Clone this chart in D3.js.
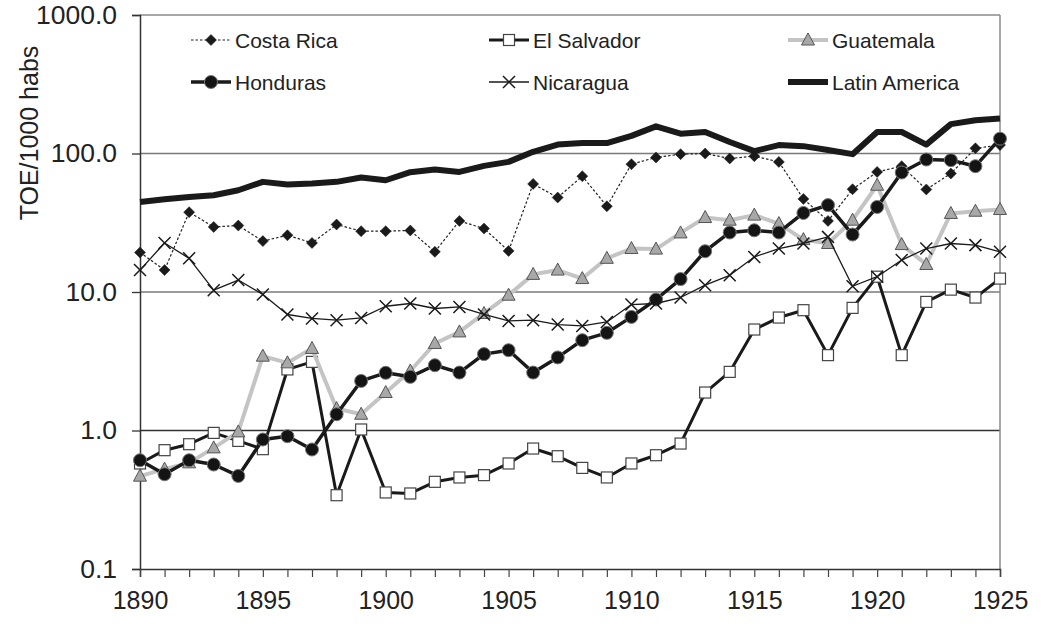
<!DOCTYPE html>
<html>
<head>
<meta charset="utf-8">
<script src="https://cdn.jsdelivr.net/npm/d3@7"></script>
<style>
  html, body { margin: 0; padding: 0; background: #fff; }
  svg { display: block; }
  text { font-family: "Liberation Sans", Arial, sans-serif; fill: #222; }
</style>
</head>
<body>
<svg id="chart" width="1042" height="627"></svg>
<script>
const years = d3.range(1890, 1926);
const yTicks = [0.1, 1, 10, 100, 1000];
const xLabelYears = [1890, 1895, 1900, 1905, 1910, 1915, 1920, 1925];

const costaRica = [19.3, 14.4, 37.7, 29.5, 30.2, 23.3, 25.7, 22.6, 30.7, 27.5, 27.5, 27.8, 19.5,
  32.6, 28.7, 19.8, 60.3, 48.1, 68.6, 41.6, 83.7, 93.6, 98.9, 100, 92, 95.7,
  87, 47, 32.6, 55.2, 73.6, 81, 55, 71.7, 109, 115];
const elSalvador = [0.578, 0.721, 0.796, 0.961, 0.841, 0.733, 2.76, 3.13, 0.341, 1.017, 0.357, 0.351, 0.426,
  0.458, 0.476, 0.578, 0.741, 0.652, 0.537, 0.458, 0.578, 0.663, 0.805, 1.88, 2.65, 5.36,
  6.54, 7.39, 3.5, 7.68, 12.9, 3.5, 8.48, 10.4, 9.12, 12.5];
const guatemala = [0.468, 0.526, 0.584, 0.749, 0.977, 3.44, 3.08, 3.91, 1.44, 1.31, 1.88, 2.69, 4.25,
  5.15, 7.0, 9.48, 13.4, 14.4, 12.5, 17.5, 20.6, 20.4, 26.7, 34.5, 33, 35.9,
  31.2, 23.9, 22.4, 33, 59, 22, 15.8, 36.9, 38.3, 39.4];
const honduras = [0.61, 0.483, 0.61, 0.568, 0.47, 0.861, 0.91, 0.729, 1.31, 2.28, 2.61, 2.44, 2.96,
  2.62, 3.56, 3.80, 2.62, 3.37, 4.49, 5.07, 6.61, 8.83, 12.4, 19.7, 26.9, 27.9,
  26.9, 37.2, 42.4, 26, 41.1, 72.9, 90.5, 89.5, 81, 128];
const nicaragua = [14.4, 22.6, 17.5, 10.3, 12.2, 9.6, 6.88, 6.44, 6.26, 6.5, 7.89, 8.26, 7.6,
  7.8, 6.88, 6.18, 6.26, 5.82, 5.69, 6.08, 8.12, 8.26, 9.12, 11.2, 13.2, 17.9,
  20.6, 22.4, 25, 11.0, 12.9, 17, 20.6, 22.4, 21.8, 19.5];
const latinAmerica = [44.7, 46.8, 48.6, 50.0, 54.3, 62.4, 59.7, 60.7, 62.4, 67.1, 64.1, 73.3, 76.6,
  73.6, 81.4, 87.0, 102.8, 116, 119, 119, 134, 157, 139, 143, 121, 104,
  115, 113, 106, 98.9, 143, 143, 116, 163, 174, 179];

const seriesNames = ["Costa Rica", "El Salvador", "Guatemala", "Honduras", "Nicaragua", "Latin America"];
const seriesValues = [costaRica, elSalvador, guatemala, honduras, nicaragua, latinAmerica];

const styles = {
  "Costa Rica":   {stroke: "#222", width: 1.2, dash: "2.5,2", marker: "diamond"},
  "El Salvador":  {stroke: "#1a1a1a", width: 3, dash: null, marker: "square"},
  "Guatemala":    {stroke: "#c4c4c4", width: 4, dash: null, marker: "triangle"},
  "Honduras":     {stroke: "#1a1a1a", width: 3.5, dash: null, marker: "circle"},
  "Nicaragua":    {stroke: "#1a1a1a", width: 1.3, dash: null, marker: "cross"},
  "Latin America":{stroke: "#1a1a1a", width: 6, dash: null, marker: null}
};

const svg = d3.select("#chart");
svg.append("rect").attr("width", 1042).attr("height", 627).attr("fill", "#fff");

const x = d3.scaleLinear().domain([1890, 1925]).range([140, 1000]);
const y = d3.scaleLog().domain([0.1, 1000]).range([569, 15]);

// gridlines
svg.append("g").selectAll("line").data(yTicks.filter(d => d > 0.1 && d < 1000)).join("line")
  .attr("x1", x(1890)).attr("x2", x(1925))
  .attr("y1", d => y(d)).attr("y2", d => y(d))
  .attr("stroke", d => d === 1 ? "#333" : "#7a7a7a").attr("stroke-width", 1.5);

// top and right frame
svg.append("line").attr("x1", x(1890)).attr("x2", x(1925)).attr("y1", y(1000)).attr("y2", y(1000))
  .attr("stroke", "#8a8a8a").attr("stroke-width", 1.5);
svg.append("line").attr("x1", x(1925)).attr("x2", x(1925)).attr("y1", y(1000)).attr("y2", y(0.1))
  .attr("stroke", "#8a8a8a").attr("stroke-width", 1.5);

// y axis
const yAxis = d3.axisLeft(y).tickValues(yTicks).tickFormat(d3.format(".1f")).tickSize(8).tickPadding(15);
const gy = svg.append("g").attr("transform", `translate(${x(1890)},0)`).call(yAxis);
gy.select(".domain").attr("stroke", "#333").attr("stroke-width", 1.5);
gy.selectAll(".tick line").attr("stroke", "#333").attr("stroke-width", 1.3);
gy.selectAll(".tick text").attr("font-size", 26.5).attr("fill", "#222")
  .style("font-family", '"Liberation Sans", Arial, sans-serif');

// x axis
const xAxis = d3.axisBottom(x).tickValues(years).tickSize(8).tickPadding(14)
  .tickFormat(d => xLabelYears.includes(d) ? String(d) : "");
const gx = svg.append("g").attr("transform", `translate(0,${y(0.1)})`).call(xAxis);
gx.select(".domain").attr("stroke", "#333").attr("stroke-width", 1.5);
gx.selectAll(".tick line").attr("stroke", "#444").attr("stroke-width", 1.2);
gx.selectAll(".tick text").attr("font-size", 25).attr("fill", "#222")
  .style("font-family", '"Liberation Sans", Arial, sans-serif');

// y title
svg.append("text").attr("transform", "translate(38,133) rotate(-90)")
  .attr("text-anchor", "middle").attr("font-size", 25).text("TOE/1000 habs");

// markers
function drawMarker(g, type, cx, cy) {
  if (type === "diamond") {
    g.append("path").attr("d", `M${cx},${cy - 5.5}L${cx + 5.5},${cy}L${cx},${cy + 5.5}L${cx - 5.5},${cy}Z`)
      .attr("fill", "#1a1a1a").attr("stroke", "#1a1a1a").attr("stroke-width", 0.5);
  } else if (type === "square") {
    g.append("rect").attr("x", cx - 5.5).attr("y", cy - 5.5).attr("width", 11).attr("height", 11)
      .attr("fill", "#fff").attr("stroke", "#444").attr("stroke-width", 1.2);
  } else if (type === "triangle") {
    g.append("path").attr("d", `M${cx},${cy - 7}L${cx + 6.5},${cy + 5}L${cx - 6.5},${cy + 5}Z`)
      .attr("fill", "#a8a8a8").attr("stroke", "#555").attr("stroke-width", 1);
  } else if (type === "circle") {
    g.append("circle").attr("cx", cx).attr("cy", cy).attr("r", 6.5)
      .attr("fill", "#141414").attr("stroke", "#777").attr("stroke-width", 1);
  } else if (type === "cross") {
    g.append("path").attr("d", `M${cx - 6},${cy - 6}L${cx + 6},${cy + 6}M${cx - 6},${cy + 6}L${cx + 6},${cy - 6}`)
      .attr("stroke", "#1a1a1a").attr("stroke-width", 1.5).attr("fill", "none");
  }
}

const line = d3.line().x((d, i) => x(years[i])).y(d => y(d));
seriesNames.forEach((name, si) => {
  const st = styles[name];
  const g = svg.append("g");
  g.append("path").datum(seriesValues[si]).attr("d", line)
    .attr("fill", "none").attr("stroke", st.stroke).attr("stroke-width", st.width)
    .attr("stroke-linejoin", "round")
    .attr("stroke-dasharray", st.dash);
  if (st.marker) {
    seriesValues[si].forEach((v, i) => drawMarker(g, st.marker, x(years[i]), y(v)));
  }
});

// legend
const legendPos = [[191, 40], [489, 40], [788, 40], [191, 82], [489, 82], [788, 82]];
seriesNames.forEach((name, i) => {
  const st = styles[name];
  const [lx, ly] = legendPos[i];
  const g = svg.append("g");
  g.append("line").attr("x1", lx).attr("x2", lx + 40).attr("y1", ly).attr("y2", ly)
    .attr("stroke", st.stroke).attr("stroke-width", st.width).attr("stroke-dasharray", st.dash);
  if (st.marker) drawMarker(g, st.marker, lx + 20, ly);
  g.append("text").attr("x", lx + 44).attr("y", ly).attr("dy", "0.36em")
    .attr("font-size", 21).text(name);
});
</script>
</body>
</html>
